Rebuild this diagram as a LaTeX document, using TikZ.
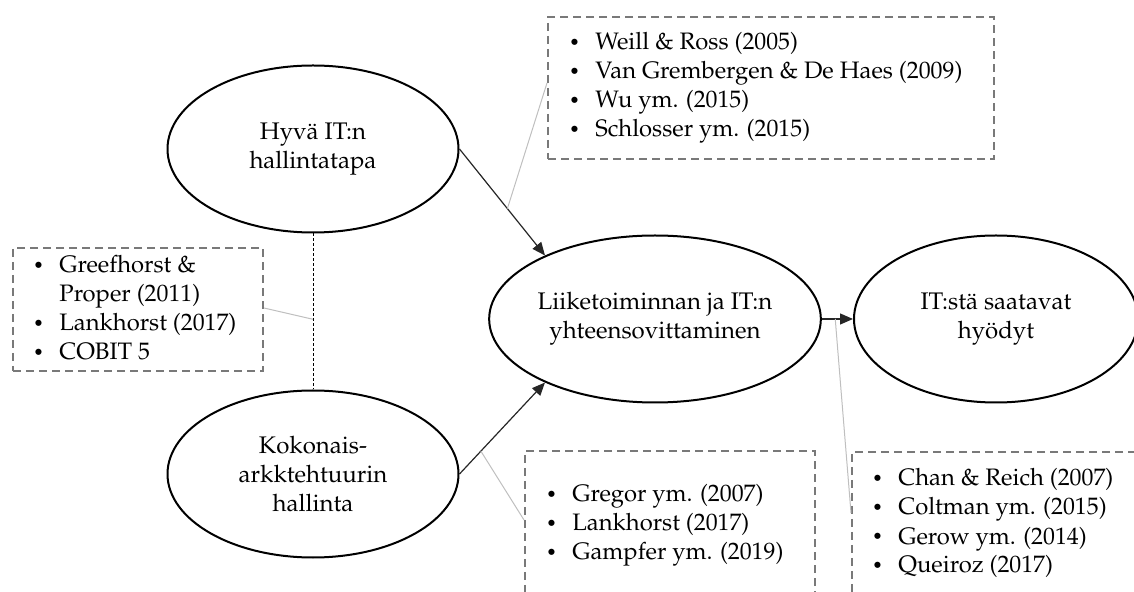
\documentclass[tikz,border=0pt]{standalone}
\usepackage[T1]{fontenc}
\usepackage{mathpazo}
\usetikzlibrary{arrows.meta,calc,shapes.geometric}

% bullet list set as a \vtop so that its base is the first baseline
\newcommand\reflist[1]{\vtop{\baselineskip=14.5pt\lineskiplimit=-10pt #1}}
\newcommand\refmark{\makebox[13.5pt][l]{\hspace*{0.3pt}\raisebox{0.6pt}{\fontsize{9}{9}\selectfont\textbullet}}}
\newcommand\refitem[1]{\hbox{\refmark#1}}
\newcommand\refcont[1]{\hbox{\hspace*{13.5pt}#1}}

\tikzset{
  concept/.style={ellipse, draw=black, line width=1pt, inner sep=0pt,
    minimum width=145.5pt, minimum height=83.5pt, align=center,
    font=\fontsize{12}{14.5}\selectfont},
  refbox/.style={draw=gray!95!black, line width=1pt, dash pattern=on 4pt off 2.5pt,
    rectangle, inner sep=0pt, anchor=north west},
  reftext/.style={anchor=base west, inner sep=0pt, font=\fontsize{11.9}{14.5}\selectfont},
  flow/.style={draw=black!85, line width=0.6pt, -{Triangle[length=6.5pt,width=5.5pt]}},
  pointer/.style={draw=black!25, line width=0.5pt},
  link/.style={draw=black, line width=0.5pt, dash pattern=on 1.5pt off 1pt},
}

\begin{document}
\begin{tikzpicture}[x=0.5pt,y=-0.5pt]
\useasboundingbox (0,0) rectangle (1134,592);
\clip (0,0) rectangle (1134,592);

% concepts
\node[concept] (gov) at (313,149) {Hyv\"a IT:n\\hallintatapa};
\node[concept] (ea)  at (313,474) {Kokonais-\\arkktehtuurin\\hallinta};
\node[concept] (align) at (655,319) {Liiketoiminnan ja IT:n\\yhteensovittaminen};
\node[concept, minimum width=142pt] (benefit) at (996,319) {IT:st\"a saatavat\\hy\"odyt};

% reference boxes
\node[refbox, minimum width=223pt, minimum height=71pt] (refgov) at (547,16) {};
\node[refbox, minimum width=125pt, minimum height=61.5pt] (reflink) at (12,247) {};
\node[refbox, minimum width=145pt, minimum height=85pt] (refea) at (524,450) {};
\node[refbox, minimum width=152pt, minimum height=85pt] (refalign) at (851,451) {};

% reference texts
\node[reftext] (tgov) at (568,50) {\reflist{%
  \refitem{Weill \& Ross (2005)}
  \refitem{Van Grembergen \& De Haes (2009)}
  \refitem{Wu ym. (2015)}
  \refitem{Schlosser ym. (2015)}}};
\node[reftext] (tlink) at (32,273) {\reflist{%
  \refitem{Greefhorst \&}
  \refcont{Proper (2011)}
  \refitem{Lankhorst (2017)}
  \refitem{COBIT 5}}};
\node[reftext] (tea) at (545,502) {\reflist{%
  \refitem{Gregor ym. (2007)}
  \refitem{Lankhorst (2017)}
  \refitem{Gampfer ym. (2019)}}};
\node[reftext] (talign) at (871,486) {\reflist{%
  \refitem{Chan \& Reich (2007)}
  \refitem{Coltman ym. (2015)}
  \refitem{Gerow ym. (2014)}
  \refitem{Queiroz (2017)}}};

% relations
\draw[flow] (gov.east) -- (align.150) coordinate[pos=0.56] (m1);
\draw[flow] (ea.east) -- (align.210) coordinate[pos=0.25] (m2);
\draw[flow] (align.east) -- (benefit.west) coordinate[pos=0.43] (m3);
\draw[link] (gov.south) -- (ea.north) coordinate[pos=0.55] (m4);

% pointers from relations to their references
\draw[pointer] (m1) -- ($(refgov.north west)+(0,67)$);
\draw[pointer] (m2) -- ($(refea.north west)+(0,70)$);
\draw[pointer] (m3) -- ($(refalign.north west)+(0,62)$);
\draw[pointer] (m4) -- ($(reflink.north east)+(0,61)$);
\end{tikzpicture}
\end{document}
